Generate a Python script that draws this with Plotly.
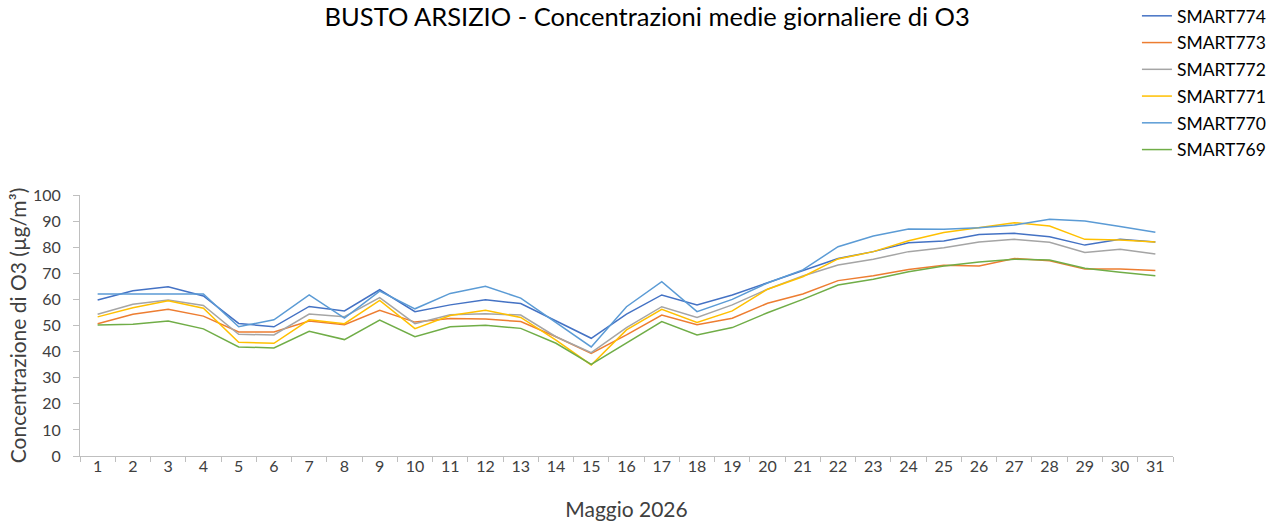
import plotly.graph_objects as go

days = list(range(1, 32))
tick_labels = [str(d) for d in days]

series_names = ["SMART774", "SMART773", "SMART772", "SMART771", "SMART770", "SMART769"]

smart774 = [59.8, 63.3, 64.8, 61.3, 50.8, 49.5, 57.3, 55.6, 63.7, 55.3, 57.9, 59.9, 58.4, 51.7, 45.1,
            54.4, 61.7, 57.9, 61.7, 66.4, 70.9, 75.7, 78.3, 81.7, 82.4, 84.9, 85.3, 84.0, 80.8, 83.0, 82.0]
smart773 = [50.7, 54.3, 56.2, 53.6, 47.5, 47.5, 51.7, 50.3, 55.8, 51.3, 52.7, 52.5, 51.5, 45.7, 39.3,
            46.4, 54.0, 50.3, 52.8, 58.5, 62.1, 67.2, 69.1, 71.5, 73.1, 72.8, 75.7, 74.8, 71.6, 71.6, 71.1]
smart772 = [54.3, 58.1, 59.8, 57.7, 46.6, 46.4, 54.4, 53.4, 60.7, 50.7, 54.1, 54.5, 54.0, 45.7, 39.6,
            49.2, 57.2, 53.1, 57.9, 63.9, 69.0, 73.2, 75.4, 78.3, 79.8, 82.0, 83.0, 81.9, 78.0, 79.2, 77.4]
smart771 = [53.3, 56.8, 59.5, 56.6, 43.6, 43.2, 52.2, 50.7, 59.6, 48.8, 53.8, 55.8, 53.1, 44.4, 34.9,
            48.3, 56.2, 51.2, 55.6, 63.9, 68.7, 75.5, 78.3, 82.5, 85.6, 87.5, 89.4, 88.1, 83.0, 82.8, 82.0]
smart770 = [62.1, 62.1, 62.1, 62.1, 49.5, 52.2, 61.7, 52.8, 63.2, 56.4, 62.3, 65.0, 60.5, 51.0, 41.8,
            57.2, 66.8, 55.3, 60.0, 66.3, 71.3, 80.2, 84.3, 87.0, 86.9, 87.5, 88.5, 90.7, 90.0, 87.9, 85.7]
smart769 = [50.2, 50.5, 51.7, 48.7, 41.8, 41.4, 47.8, 44.6, 52.1, 45.7, 49.5, 50.1, 48.9, 43.2, 35.1,
            43.2, 51.5, 46.4, 49.2, 54.9, 60.0, 65.5, 67.7, 70.6, 72.8, 74.3, 75.4, 75.1, 71.9, 70.4, 69.1]

series_values = [smart774, smart773, smart772, smart771, smart770, smart769]
colors = ["#4472C4", "#ED7D31", "#A5A5A5", "#FFC000", "#5B9BD5", "#70AD47"]

FONT = "Lato"
fig = go.Figure()
for name, vals, col in zip(series_names, series_values, colors):
    fig.add_trace(go.Scatter(x=days, y=vals, mode="lines", name=name, legendgroup=name,
                             line=dict(color=col, width=1.5)))

fig.update_layout(
    width=1269, height=522,
    paper_bgcolor="white", plot_bgcolor="white",
    margin=dict(l=80, r=96, t=195, b=66, autoexpand=False),
    font=dict(family=FONT, color="#404040", size=16),
    title=dict(text="BUSTO ARSIZIO - Concentrazioni medie giornaliere di O3",
               x=0.51, xanchor="center", y=0.985, yanchor="top", yref="container",
               pad=dict(t=0, b=0),
               font=dict(family=FONT, size=25.5, color="#000000")),
    legend=dict(x=0.967, xanchor="left", y=1.755, yanchor="top",
                font=dict(family=FONT, size=17.5, color="#000000"),
                tracegroupgap=1, bgcolor="rgba(0,0,0,0)"),
    showlegend=True,
)
fig.update_xaxes(
    range=[0.5, 31.5], tickmode="array", tickvals=days, ticktext=tick_labels,
    showgrid=False, zeroline=False, showline=True, linecolor="#BFBFBF", linewidth=1,
    ticks="", tickfont=dict(size=16, color="#404040"), ticklabelstandoff=-4,
    minor=dict(tickmode="array", tickvals=[d + 0.5 for d in range(0, 32)], ticks="outside",
               ticklen=5, tickcolor="#BFBFBF", showgrid=False),
    title=dict(text="Maggio 2026", font=dict(size=21, color="#404040"), standoff=28),
)
fig.update_yaxes(
    range=[0, 100], tickmode="array", tickvals=list(range(0, 101, 10)),
    showgrid=False, zeroline=False, showline=True, linecolor="#BFBFBF", linewidth=1,
    ticks="outside", ticklen=6, tickcolor="#BFBFBF", tickfont=dict(size=16, color="#404040"),
    ticklabelstandoff=9,
    title=dict(text="Concentrazione di O3 (µg/m³)", font=dict(size=21, color="#404040"), standoff=0),
)

fig.write_html("out.html", config={"displayModeBar": False},
               post_script="document.body.style.margin='0';document.body.style.overflow='hidden';")
